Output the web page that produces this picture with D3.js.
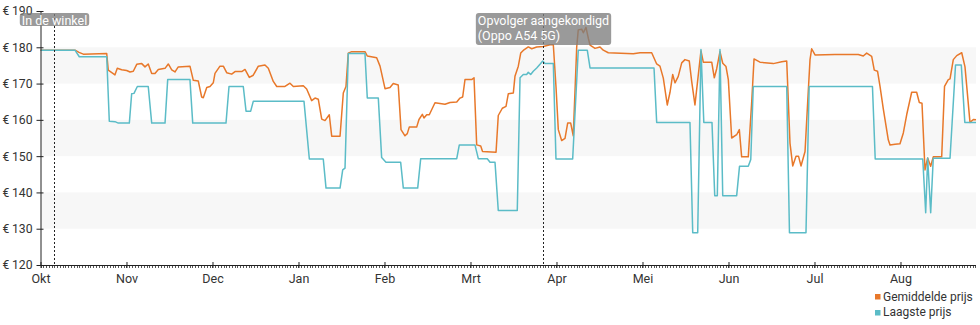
<!DOCTYPE html>
<html><head><meta charset="utf-8">
<script src="https://cdn.jsdelivr.net/npm/d3@7"></script>
<style>
html,body{margin:0;padding:0;background:#fff;}
svg{display:block;font-family:Roboto,"Noto Sans",sans-serif;}
</style></head>
<body><svg id="chart" width="980" height="325"></svg>
<script>
// ---- data ----
const monthLabels = ["Okt","Nov","Dec","Jan","Feb","Mrt","Apr","Mei","Jun","Jul","Aug"];
const daysInMonth = [31,30,31,31,28,31,30,31,30,31,31];
const yTickValues = [120,130,140,150,160,170,180,190];
const endT = 10.878; // months since start of Okt
// [months since 1 Okt, price in euro]
const gemiddeldePrijs = [
[0,179.2],[0.401,179.2],[0.448,178.6],[0.498,178.1],[0.770,178.3],[0.788,173.7],[0.866,172.4],[0.893,174.2],[0.944,173.8],[1.002,173.6],[1.041,173.2],[1.079,173.4],[1.119,175.3],[1.177,175.5],[1.215,174.6],[1.253,175.4],[1.293,172.8],[1.331,172.8],[1.370,173.9],[1.448,174.2],[1.486,175.4],[1.526,173.8],[1.564,173.2],[1.602,174.6],[1.738,174.8],[1.777,170.9],[1.835,170.7],[1.874,166.3],[1.893,166.1],[1.933,168.9],[1.971,169.2],[2.009,170.2],[2.029,172.8],[2.087,174.8],[2.126,174.8],[2.165,173.0],[2.223,172.6],[2.262,173.3],[2.340,173.3],[2.378,173.9],[2.428,171.7],[2.474,172.3],[2.533,174.8],[2.610,175.1],[2.649,174.2],[2.707,170.6],[2.747,169.2],[2.843,169.2],[2.901,170.1],[2.940,169.2],[3.056,169.4],[3.095,168.5],[3.153,165.3],[3.192,166.0],[3.230,165.7],[3.270,160.2],[3.308,159.8],[3.358,161.4],[3.386,155.5],[3.483,155.5],[3.521,167.4],[3.552,169.2],[3.579,178.4],[3.619,178.8],[3.773,178.8],[3.800,177.6],[3.909,177.1],[3.948,174.8],[4.006,168.6],[4.064,168.9],[4.102,170.0],[4.160,169.6],[4.192,157.3],[4.238,155.6],[4.265,156.2],[4.288,158.0],[4.374,158.0],[4.401,160.1],[4.440,161.5],[4.459,160.5],[4.491,161.4],[4.521,161.4],[4.587,164.7],[4.703,164.3],[4.762,164.8],[4.840,164.9],[4.878,166.0],[4.909,166.3],[4.936,171.1],[5.014,171.1],[5.041,171.6],[5.072,153.1],[5.119,152.8],[5.140,151.3],[5.297,151.1],[5.323,161.2],[5.370,163.2],[5.413,163.7],[5.440,167.2],[5.498,167.4],[5.517,172.0],[5.556,174.8],[5.584,178.4],[5.622,179.3],[5.672,180.1],[5.712,179.6],[5.770,180.1],[5.847,180.2],[5.924,180.7],[5.963,180.7],[5.994,169.2],[6.021,157.3],[6.060,154.3],[6.099,154.9],[6.130,159.1],[6.165,159.1],[6.195,155.6],[6.235,180.0],[6.253,184.8],[6.293,185.0],[6.312,184.0],[6.343,185.5],[6.370,182.5],[6.390,180.6],[6.448,179.7],[6.506,180.1],[6.544,179.2],[6.602,178.5],[6.893,178.2],[6.971,178.5],[7.107,178.5],[7.165,175.4],[7.203,174.8],[7.242,171.5],[7.288,164.1],[7.320,167.6],[7.351,172.5],[7.378,170.2],[7.416,172.0],[7.456,175.7],[7.494,176.6],[7.544,176.2],[7.572,170.6],[7.610,164.1],[7.680,179.0],[7.707,175.9],[7.805,175.9],[7.835,171.6],[7.863,174.1],[7.901,178.8],[7.933,175.6],[7.971,174.7],[7.998,171.1],[8.037,155.0],[8.095,155.9],[8.126,157.3],[8.153,149.8],[8.230,149.8],[8.270,165.0],[8.297,176.8],[8.366,175.9],[8.521,175.5],[8.619,176.0],[8.677,176.2],[8.715,153.6],[8.747,147.3],[8.785,150.0],[8.814,150.0],[8.843,147.3],[8.890,151.3],[8.921,165.0],[8.948,176.6],[8.967,179.6],[9.006,177.9],[9.238,178.0],[9.509,178.0],[9.567,177.6],[9.607,178.4],[9.665,177.5],[9.695,173.7],[9.733,173.4],[9.762,169.2],[9.800,163.0],[9.858,154.5],[9.878,153.1],[9.936,153.3],[9.994,153.4],[10.033,156.4],[10.072,161.4],[10.130,167.6],[10.188,167.6],[10.219,164.8],[10.250,164.6],[10.285,146.2],[10.316,149.5],[10.351,147.2],[10.381,149.8],[10.479,149.8],[10.512,169.2],[10.556,171.1],[10.576,171.3],[10.614,176.6],[10.654,177.7],[10.712,178.5],[10.750,174.6],[10.808,159.3],[10.847,160.1],[10.878,160.0]
];
const laagstePrijs = [
[0,179.2],[0.401,179.2],[0.451,177.4],[0.770,177.4],[0.800,159.6],[0.866,159.5],[0.905,159.1],[1.033,159.1],[1.060,167.2],[1.087,167.3],[1.126,169.2],[1.253,169.2],[1.293,159.1],[1.448,159.1],[1.479,171.1],[1.738,171.1],[1.770,159.1],[2.157,159.1],[2.192,169.2],[2.358,169.2],[2.390,162.4],[2.444,162.4],[2.474,165.1],[3.064,165.1],[3.126,149.2],[3.288,149.2],[3.320,141.2],[3.483,141.2],[3.514,146.2],[3.541,146.7],[3.579,178.3],[3.773,178.3],[3.800,166.0],[3.928,166.0],[3.967,149.6],[4.017,148.3],[4.188,148.3],[4.219,141.2],[4.386,141.2],[4.421,149.3],[4.840,149.3],[4.870,153.1],[5.052,153.1],[5.091,149.3],[5.195,149.3],[5.227,148.3],[5.285,148.3],[5.323,135.0],[5.544,135.0],[5.576,171.6],[5.614,172.5],[5.653,172.5],[5.672,173.1],[5.700,172.5],[5.730,173.4],[5.770,174.3],[5.808,175.3],[5.840,176.2],[5.866,175.5],[5.963,175.5],[5.994,149.2],[6.188,149.2],[6.253,179.2],[6.358,179.2],[6.390,174.3],[7.134,174.3],[7.165,159.3],[7.552,159.3],[7.584,128.9],[7.642,128.9],[7.680,179.4],[7.713,159.3],[7.808,159.3],[7.840,139.1],[7.870,139.1],[7.901,179.4],[7.933,139.1],[8.095,139.1],[8.128,147.2],[8.230,147.2],[8.259,149.1],[8.288,169.2],[8.677,169.2],[8.709,128.9],[8.901,128.9],[8.938,169.2],[9.674,169.2],[9.706,149.2],[10.259,149.2],[10.293,134.4],[10.316,149.5],[10.351,134.4],[10.381,149.4],[10.576,149.4],[10.640,175.1],[10.707,175.1],[10.748,159.3],[10.878,159.3]
];
const annotations = [
  {t: 0.160, lines: ["In de winkel"]},
  {t: 5.840, lines: ["Opvolger aangekondigd", "(Oppo A54 5G)"]}
];
const seriesNames = ["Gemiddelde prijs", "Laagste prijs"];
const seriesColors = ["#e8782a", "#5bbcc7"];

// ---- layout ----
const svg = d3.select("#chart");
const mLeft = 40.5, mRight = 976, mTop = 11, mBottom = 265;
const x = d3.scaleLinear().domain([0, endT]).range([mLeft, mRight]);
const y = d3.scaleLinear().domain([120, 190]).range([mBottom, mTop]);

// bands
const bandPairs = [[130,140],[150,160],[170,180]];
svg.append("g").selectAll("rect").data(bandPairs).join("rect")
  .attr("x", mLeft).attr("width", mRight - mLeft)
  .attr("y", d => y(d[1])).attr("height", d => y(d[0]) - y(d[1]))
  .attr("fill", "#f7f7f7");

// lines
const line = d3.line().x(d => x(d[0])).y(d => y(d[1]));
[gemiddeldePrijs, laagstePrijs].forEach((s, i) => {
  svg.append("path").datum(s).attr("d", line)
    .attr("fill", "none").attr("stroke", seriesColors[i])
    .attr("stroke-width", 1.5).attr("stroke-linejoin", "round");
});

// y axis
const yAxis = d3.axisLeft(y).tickValues(yTickValues).tickSize(4).tickPadding(4)
  .tickFormat(d => "€\u2009" + d);
const gy = svg.append("g").attr("transform", `translate(${mLeft},0)`).call(yAxis);
gy.select(".domain").attr("stroke", "#222").attr("d", `M0.5,${mTop}V${mBottom}`);
gy.selectAll(".tick line").attr("stroke", "#222").attr("x1", 3);
gy.selectAll(".tick text").attr("fill", "#333").attr("font-size", 12.2)
  .attr("font-family", "Roboto, sans-serif");

// x axis: minor daily ticks
const minor = [];
daysInMonth.forEach((n, m) => { for (let d = 0; d < n; d++) minor.push(m + d / n); });
svg.append("g").selectAll("line").data(minor.filter(t => t <= endT)).join("line")
  .attr("x1", d => Math.round(x(d)) + 0.5).attr("x2", d => Math.round(x(d)) + 0.5)
  .attr("y1", mBottom + 1).attr("y2", mBottom + 3)
  .attr("stroke", "#555").attr("stroke-width", 1);

const xAxis = d3.axisBottom(x).tickValues(d3.range(monthLabels.length))
  .tickFormat(i => monthLabels[i]).tickSize(0).tickPadding(9);
const gx = svg.append("g").attr("transform", `translate(0,${mBottom})`).call(xAxis);
gx.select(".domain").attr("stroke", "#222").attr("d", `M${mLeft},0.5H${mRight}`);
gx.selectAll(".tick line").attr("stroke", "#222").attr("y1", -3).attr("y2", 3);
gx.selectAll(".tick text").attr("fill", "#333").attr("font-size", 12.5)
  .attr("font-family", "Roboto, sans-serif");

// annotations
annotations.forEach(a => {
  const ax = Math.round(x(a.t)) + 0.5;
  svg.append("line").attr("x1", ax).attr("x2", ax).attr("y1", 14).attr("y2", mBottom)
    .attr("stroke", "#222").attr("stroke-dasharray", "2,2");
  const g = svg.append("g");
  const rect = g.append("rect");
  const txt = g.append("text").attr("fill", "#fff").attr("font-size", 12.5)
    .attr("font-family", "Roboto, sans-serif");
  a.lines.forEach((l, i) => txt.append("tspan").attr("x", 0).attr("y", 24.5 + i * 15).text(l));
  const bb = txt.node().getBBox();
  const w = bb.width + 4;
  txt.attr("transform", `translate(${ax - w / 2 + 2},0)`);
  rect.attr("x", ax - w / 2).attr("y", 13).attr("width", w)
    .attr("height", a.lines.length * 15 - 2 + (a.lines.length > 1 ? 4 : 0))
    .attr("rx", 3).attr("fill", "rgba(125,125,125,0.78)");
});

// legend
const lg = svg.append("g");
seriesNames.forEach((n, i) => {
  lg.append("rect").attr("x", 875).attr("y", 294 + i * 16).attr("width", 5.5).attr("height", 5.5)
    .attr("fill", seriesColors[i]);
  lg.append("text").attr("x", 883).attr("y", 300.5 + i * 15.5).attr("font-size", 12)
    .attr("fill", "#333").attr("font-family", "Roboto, sans-serif").text(n);
});
</script></body></html>
